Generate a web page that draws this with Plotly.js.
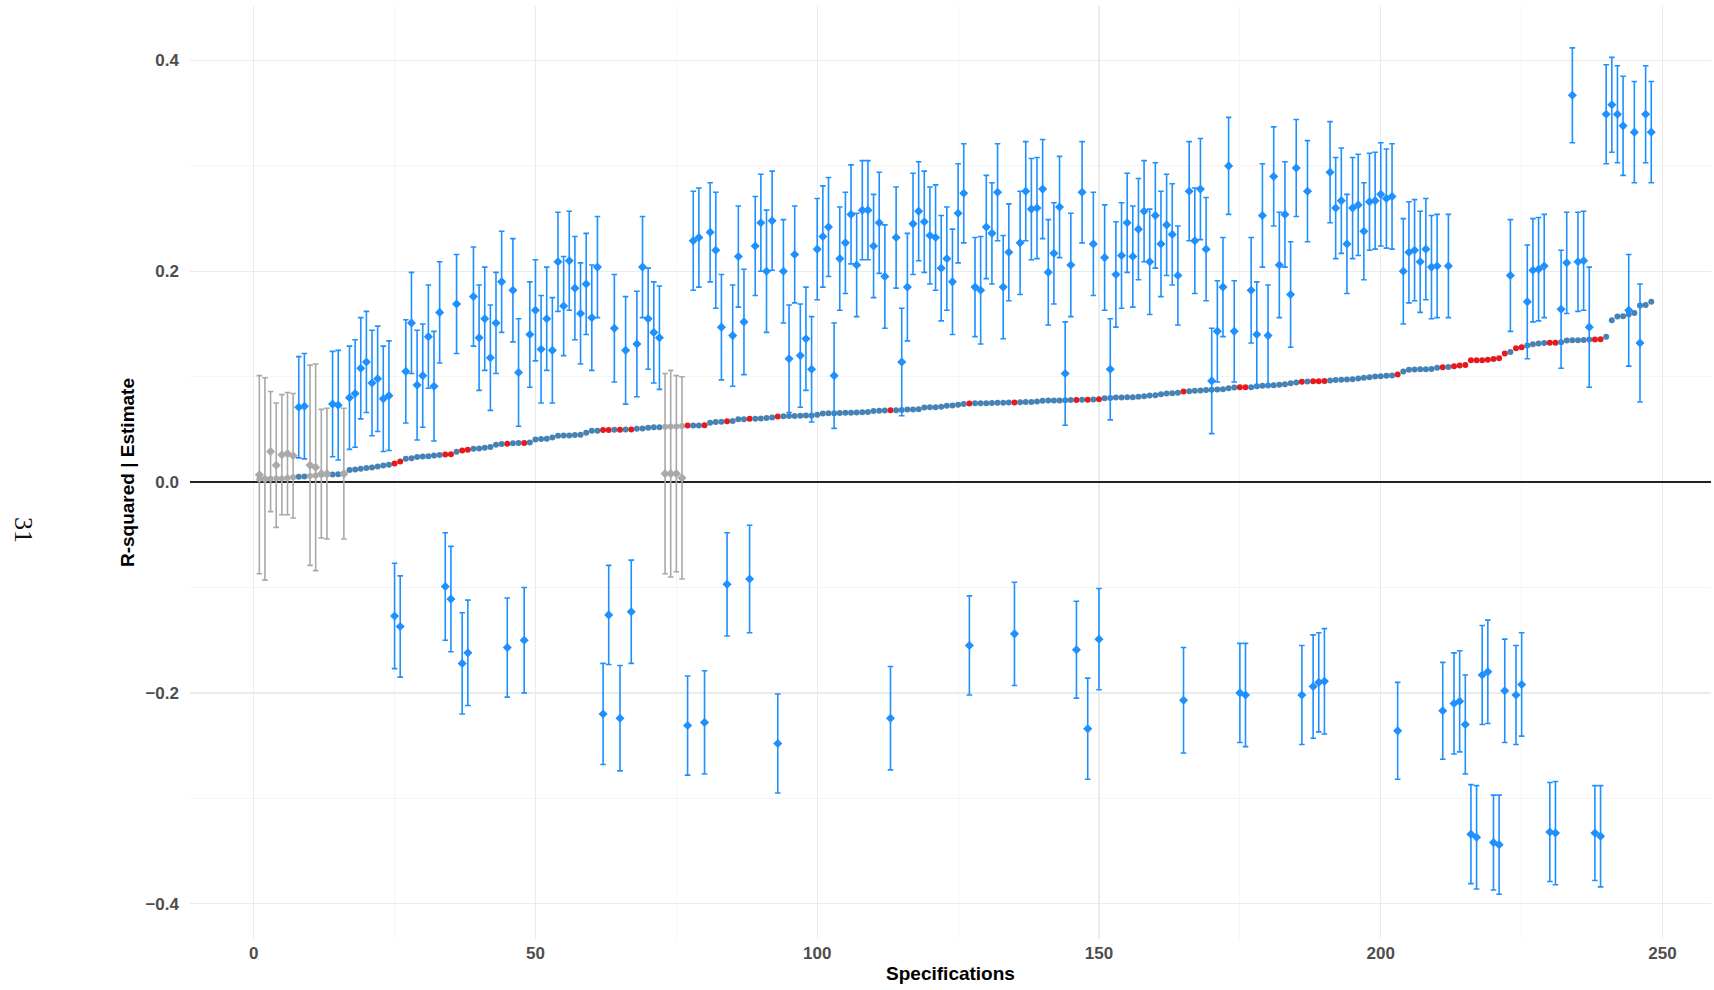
<!DOCTYPE html>
<html>
<head>
<meta charset="utf-8">
<script src="https://cdn.plot.ly/plotly-3.0.1.min.js"></script>
<style>
  html, body { margin: 0; padding: 0; background: #ffffff; }
  #chart { width: 1714px; height: 990px; }
</style>
</head>
<body>
<div id="chart"></div>
<script>
// Model fit (R-squared) of each specification, sorted ascending
const rSquared = [
  0.0030, 0.0032, 0.0032, 0.0033, 0.0035, 0.0038, 0.0045, 0.0050, 0.0052, 0.0057,
  0.0063, 0.0069, 0.0072, 0.0073, 0.0074, 0.0076, 0.0114, 0.0120, 0.0126, 0.0133,
  0.0139, 0.0148, 0.0158, 0.0164, 0.0177, 0.0196, 0.0221, 0.0227, 0.0237, 0.0243,
  0.0246, 0.0253, 0.0256, 0.0262, 0.0265, 0.0288, 0.0300, 0.0306, 0.0316, 0.0319,
  0.0325, 0.0332, 0.0354, 0.0361, 0.0363, 0.0368, 0.0370, 0.0371, 0.0376, 0.0404,
  0.0408, 0.0411, 0.0423, 0.0439, 0.0441, 0.0442, 0.0446, 0.0449, 0.0468, 0.0486,
  0.0487, 0.0494, 0.0495, 0.0496, 0.0497, 0.0499, 0.0500, 0.0506, 0.0509, 0.0515,
  0.0520, 0.0521, 0.0524, 0.0527, 0.0528, 0.0531, 0.0536, 0.0537, 0.0538, 0.0540,
  0.0562, 0.0569, 0.0572, 0.0577, 0.0579, 0.0596, 0.0597, 0.0600, 0.0602, 0.0604,
  0.0607, 0.0613, 0.0622, 0.0625, 0.0626, 0.0628, 0.0629, 0.0631, 0.0632, 0.0638,
  0.0651, 0.0653, 0.0654, 0.0656, 0.0657, 0.0659, 0.0660, 0.0663, 0.0664, 0.0675,
  0.0676, 0.0679, 0.0681, 0.0682, 0.0683, 0.0688, 0.0689, 0.0692, 0.0708, 0.0710,
  0.0711, 0.0714, 0.0724, 0.0727, 0.0733, 0.0742, 0.0746, 0.0747, 0.0749, 0.0749,
  0.0750, 0.0752, 0.0753, 0.0755, 0.0756, 0.0758, 0.0759, 0.0761, 0.0765, 0.0771,
  0.0773, 0.0774, 0.0775, 0.0777, 0.0779, 0.0780, 0.0781, 0.0782, 0.0784, 0.0787,
  0.0796, 0.0799, 0.0802, 0.0803, 0.0805, 0.0806, 0.0809, 0.0815, 0.0821, 0.0825,
  0.0834, 0.0840, 0.0844, 0.0847, 0.0859, 0.0863, 0.0866, 0.0869, 0.0874, 0.0876,
  0.0878, 0.0881, 0.0891, 0.0897, 0.0899, 0.0900, 0.0901, 0.0910, 0.0913, 0.0916,
  0.0919, 0.0923, 0.0929, 0.0938, 0.0945, 0.0953, 0.0954, 0.0956, 0.0957, 0.0958,
  0.0964, 0.0969, 0.0970, 0.0973, 0.0976, 0.0983, 0.0989, 0.0995, 0.1002, 0.1005,
  0.1008, 0.1011, 0.1021, 0.1049, 0.1065, 0.1068, 0.1070, 0.1071, 0.1074, 0.1084,
  0.1090, 0.1093, 0.1100, 0.1106, 0.1112, 0.1155, 0.1156, 0.1157, 0.1160, 0.1169,
  0.1175, 0.1220, 0.1235, 0.1270, 0.1280, 0.1295, 0.1308, 0.1314, 0.1320, 0.1321,
  0.1322, 0.1327, 0.1343, 0.1345, 0.1346, 0.1349, 0.1352, 0.1354, 0.1355, 0.1378,
  0.1536, 0.1572, 0.1574, 0.1592, 0.1605, 0.1675, 0.1681, 0.1712
];

// Point estimate of each specification
const estimate = [
  0.007, 0.003, 0.029, 0.016, 0.026, 0.027, 0.025, 0.071, 0.072, 0.016,
  0.014, 0.008, 0.008, 0.074, 0.073, 0.008, 0.080, 0.084, 0.108, 0.114,
  0.094, 0.098, 0.079, 0.082, -0.127, -0.137, 0.105, 0.151, 0.092, 0.101,
  0.138, 0.091, 0.161, -0.099, -0.111, 0.169, -0.172, -0.162, 0.176, 0.137,
  0.155, 0.118, 0.151, 0.190, -0.157, 0.182, 0.104, -0.150, 0.140, 0.163,
  0.126, 0.155, 0.125, 0.209, 0.167, 0.210, 0.184, 0.160, 0.188, 0.156,
  0.204, -0.220, -0.126, 0.146, -0.224, 0.125, -0.123, 0.131, 0.204, 0.155,
  0.142, 0.137, 0.008, 0.008, 0.008, 0.004, -0.231, 0.229, 0.232, -0.228,
  0.237, 0.220, 0.147, -0.097, 0.139, 0.214, 0.152, -0.092, 0.224, 0.246,
  0.200, 0.248, -0.248, 0.200, 0.117, 0.216, 0.120, 0.136, 0.107, 0.221,
  0.233, 0.242, 0.101, 0.212, 0.227, 0.254, 0.206, 0.258, 0.258, 0.224,
  0.246, 0.195, -0.224, 0.232, 0.114, 0.185, 0.245, 0.257, 0.247, 0.234,
  0.232, 0.203, 0.212, 0.190, 0.255, 0.274, -0.155, 0.185, 0.182, 0.242,
  0.236, 0.275, 0.185, 0.218, -0.144, 0.227, 0.276, 0.259, 0.260, 0.278,
  0.199, 0.217, 0.261, 0.103, 0.206, -0.159, 0.275, -0.234, 0.226, -0.149,
  0.213, 0.107, 0.197, 0.215, 0.246, 0.214, 0.240, 0.257, 0.209, 0.253,
  0.226, 0.244, 0.235, 0.196, -0.207, 0.276, 0.229, 0.278, 0.221, 0.096,
  0.143, 0.185, 0.300, 0.143, -0.200, -0.202, 0.182, 0.140, 0.253, 0.139,
  0.290, 0.206, 0.254, 0.178, 0.298, -0.202, 0.276, -0.194, -0.190, -0.189,
  0.294, 0.260, 0.267, 0.226, 0.260, 0.263, 0.238, 0.266, 0.267, 0.273,
  0.269, 0.271, -0.236, 0.200, 0.218, 0.220, 0.209, 0.221, 0.204, 0.205,
  -0.217, 0.205, -0.210, -0.208, -0.230, -0.334, -0.337, -0.183, -0.180, -0.342,
  -0.344, -0.198, 0.196, -0.202, -0.192, 0.171, 0.201, 0.202, 0.205, -0.332,
  -0.333, 0.164, 0.208, 0.367, 0.209, 0.210, 0.147, -0.333, -0.336, 0.349,
  0.358, 0.349, 0.338, 0.163, 0.332, 0.132, 0.349, 0.332
];

// Half-width of the confidence interval around each estimate
const ciHalfWidth = [
  0.094, 0.096, 0.057, 0.059, 0.057, 0.058, 0.059, 0.048, 0.050, 0.095,
  0.098, 0.061, 0.062, 0.050, 0.052, 0.062, 0.049, 0.051, 0.048, 0.048,
  0.050, 0.050, 0.050, 0.052, 0.050, 0.048, 0.049, 0.048, 0.052, 0.049,
  0.049, 0.052, 0.048, 0.051, 0.050, 0.047, 0.048, 0.050, 0.047, 0.050,
  0.049, 0.050, 0.048, 0.048, 0.047, 0.049, 0.051, 0.050, 0.050, 0.048,
  0.051, 0.049, 0.050, 0.047, 0.047, 0.047, 0.049, 0.048, 0.048, 0.050,
  0.048, 0.048, 0.047, 0.051, 0.050, 0.051, 0.049, 0.050, 0.048, 0.048,
  0.048, 0.049, 0.095, 0.098, 0.093, 0.096, 0.047, 0.047, 0.047, 0.049,
  0.047, 0.055, 0.050, 0.049, 0.048, 0.048, 0.050, 0.051, 0.047, 0.046,
  0.058, 0.047, 0.047, 0.049, 0.051, 0.046, 0.049, 0.049, 0.050, 0.048,
  0.048, 0.047, 0.050, 0.049, 0.048, 0.047, 0.049, 0.047, 0.047, 0.049,
  0.048, 0.049, 0.049, 0.048, 0.051, 0.051, 0.048, 0.047, 0.048, 0.046,
  0.050, 0.050, 0.049, 0.050, 0.047, 0.047, 0.047, 0.047, 0.051, 0.049,
  0.048, 0.046, 0.049, 0.046, 0.049, 0.049, 0.047, 0.048, 0.048, 0.047,
  0.050, 0.048, 0.048, 0.049, 0.049, 0.046, 0.048, 0.048, 0.049, 0.048,
  0.050, 0.048, 0.050, 0.050, 0.047, 0.048, 0.048, 0.048, 0.050, 0.050,
  0.050, 0.048, 0.048, 0.047, 0.050, 0.047, 0.050, 0.048, 0.049, 0.050,
  0.048, 0.047, 0.046, 0.048, 0.047, 0.049, 0.050, 0.050, 0.049, 0.048,
  0.047, 0.050, 0.050, 0.050, 0.046, 0.047, 0.048, 0.049, 0.047, 0.050,
  0.048, 0.048, 0.050, 0.047, 0.048, 0.048, 0.046, 0.046, 0.046, 0.049,
  0.047, 0.050, 0.046, 0.050, 0.048, 0.048, 0.048, 0.048, 0.049, 0.049,
  0.046, 0.049, 0.048, 0.048, 0.047, 0.047, 0.049, 0.047, 0.049, 0.045,
  0.047, 0.049, 0.053, 0.047, 0.049, 0.054, 0.049, 0.049, 0.049, 0.047,
  0.049, 0.056, 0.048, 0.045, 0.047, 0.047, 0.057, 0.045, 0.048, 0.047,
  0.045, 0.046, 0.047, 0.053, 0.048, 0.056, 0.046, 0.048
];

// Axis ticks
const xTickVals = [0, 50, 100, 150, 200, 250];
const xTickText = ['0', '50', '100', '150', '200', '250'];
const yTickVals = [-0.4, -0.2, 0.0, 0.2, 0.4];
const yTickText = ['\u22120.4', '\u22120.2', '0.0', '0.2', '0.4'];

const sideLabel = '31';

// Colours
const COL_SIG = '#1E90FF';      // significant estimate
const COL_NS = '#A9A9A9';       // interval crosses zero
const COL_FIT = '#4682B4';      // fit of a positive-effect specification
const COL_NEG = '#E41A1C';      // fit of a negative-effect specification

// Specification index (1..N)
const specs = estimate.map((_, i) => i + 1);
const significant = estimate.map((e, i) => (e - ciHalfWidth[i]) > 0 || (e + ciHalfWidth[i]) < 0);

const fitColours = specs.map((_, i) => {
  if (!significant[i]) return COL_NS;
  return estimate[i] < 0 ? COL_NEG : COL_FIT;
});

function subset(arr, keep) {
  return arr.filter((_, i) => keep(i));
}
const isNs = i => !significant[i];
const isSig = i => significant[i];

const traces = [
  {
    type: 'scatter', mode: 'markers', name: 'R-squared',
    x: specs, y: rSquared,
    marker: { color: fitColours, size: 6, line: { width: 0 } },
    hoverinfo: 'x+y', showlegend: false
  },
  {
    type: 'scatter', mode: 'markers', name: 'Estimate (n.s.)',
    x: subset(specs, isNs), y: subset(estimate, isNs),
    error_y: { type: 'data', array: subset(ciHalfWidth, isNs), visible: true,
               color: COL_NS, thickness: 1.6, width: 2.8 },
    marker: { symbol: 'diamond', color: COL_NS, size: 7, line: { width: 0 } },
    showlegend: false
  },
  {
    type: 'scatter', mode: 'markers', name: 'Estimate',
    x: subset(specs, isSig), y: subset(estimate, isSig),
    error_y: { type: 'data', array: subset(ciHalfWidth, isSig), visible: true,
               color: COL_SIG, thickness: 1.6, width: 2.8 },
    marker: { symbol: 'diamond', color: COL_SIG, size: 7, line: { width: 0 } },
    showlegend: false
  }
];

const tickFont = { family: 'Liberation Sans, Arial, sans-serif', size: 17, color: '#4D4D4D', weight: 'bold' };
const titleFont = { family: 'Liberation Sans, Arial, sans-serif', size: 19, color: '#000000', weight: 'bold' };

const layout = {
  width: 1714, height: 990,
  margin: { l: 190, r: 3, t: 6, b: 51 },
  paper_bgcolor: '#ffffff', plot_bgcolor: '#ffffff',
  showlegend: false,
  xaxis: {
    range: [-11.3, 258.6], autorange: false,
    tickmode: 'array', tickvals: xTickVals, ticktext: xTickText,
    tickfont: tickFont, ticks: '', ticklabelstandoff: 2,
    showgrid: true, gridcolor: '#EBEBEB', gridwidth: 1.3,
    minor: { dtick: 25, tick0: 0, showgrid: true, gridcolor: '#F3F3F3', gridwidth: 0.8 },
    zeroline: false, showline: false,
    title: { text: 'Specifications', font: titleFont, standoff: 4 },
    automargin: false
  },
  yaxis: {
    range: [-0.4335, 0.4517], autorange: false,
    tickmode: 'array', tickvals: yTickVals, ticktext: yTickText,
    tickfont: tickFont, ticks: '', ticklabelstandoff: 10,
    showgrid: true, gridcolor: '#EBEBEB', gridwidth: 1.3,
    minor: { dtick: 0.1, tick0: 0, showgrid: true, gridcolor: '#F3F3F3', gridwidth: 0.8 },
    zeroline: true, zerolinecolor: '#222222', zerolinewidth: 1.4,
    showline: false,
    title: { text: 'R-squared | Estimate', font: titleFont, standoff: 5 },
    automargin: false
  },
  annotations: [
    {
      text: sideLabel, xref: 'paper', yref: 'paper',
      x: (24 - 190) / 1521, y: (939 - 530) / 933,
      xanchor: 'center', yanchor: 'middle', showarrow: false,
      textangle: 90,
      font: { family: 'Liberation Serif, Times New Roman, serif', size: 26, color: '#111111' }
    }
  ]
};

Plotly.newPlot('chart', traces, layout, { displayModeBar: false, staticPlot: true });
</script>
</body>
</html>
